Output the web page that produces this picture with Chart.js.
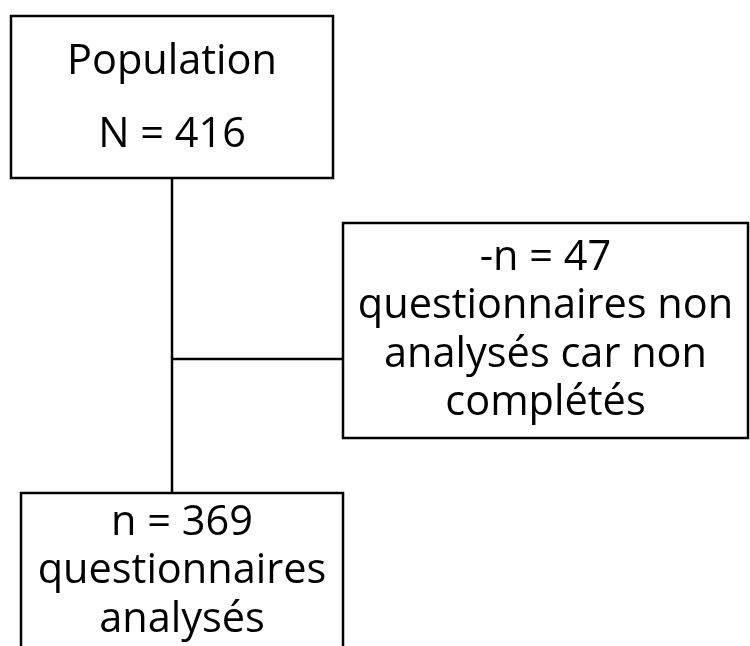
<!DOCTYPE html>
<html>
<head>
<meta charset="utf-8">
<script src="https://cdn.jsdelivr.net/npm/chart.js@4"></script>
<style>
  html, body { margin: 0; padding: 0; background: #fff; }
  #wrap { width: 750px; height: 646px; }
</style>
</head>
<body>
<div id="wrap"><canvas id="flow"></canvas></div>
<script>
// flow steps: count label, count, text lines
const countNames = ["N", "-n", "n"];
const stepCounts = [416, 47, 369];
const stepTexts = [
  ["Population"],
  ["questionnaires non", "analysés car non", "complétés"],
  ["questionnaires", "analysés"]
];

// box layout in chart units (x 0..750, y 0..646 top-down)
const boxLayout = [
  { x0: 11, x1: 333, y0: 16, y1: 178, baselines: [74, 147], countFirst: false },
  { x0: 343, x1: 748, y0: 223, y1: 438, baselines: [270, 318, 367, 415], countFirst: true },
  { x0: 21, x1: 343, y0: 493, y1: 660, baselines: [535, 583, 632], countFirst: true }
];
const trunkX = 172;
const branchY = 359;

const flowPlugin = {
  id: "flow",
  afterDraw(chart) {
    const ctx = chart.ctx;
    const xs = chart.scales.x, ys = chart.scales.y;
    const px = v => xs.getPixelForValue(v);
    const py = v => ys.getPixelForValue(v);

    ctx.save();
    ctx.strokeStyle = "#000";
    ctx.lineWidth = 2.5;

    // connectors
    ctx.beginPath();
    ctx.moveTo(px(trunkX), py(boxLayout[0].y1));
    ctx.lineTo(px(trunkX), py(boxLayout[2].y0));
    ctx.moveTo(px(trunkX), py(branchY));
    ctx.lineTo(px(boxLayout[1].x0), py(branchY));
    ctx.stroke();

    ctx.font = "41.5px 'Open Sans'";
    ctx.textAlign = "center";
    ctx.textBaseline = "alphabetic";

    boxLayout.forEach((b, i) => {
      ctx.fillStyle = "#fff";
      ctx.fillRect(px(b.x0), py(b.y0), px(b.x1) - px(b.x0), py(b.y1) - py(b.y0));
      ctx.strokeRect(px(b.x0), py(b.y0), px(b.x1) - px(b.x0), py(b.y1) - py(b.y0));

      const countLine = countNames[i] + " = " + stepCounts[i];
      const lines = b.countFirst ? [countLine, ...stepTexts[i]] : [...stepTexts[i], countLine];
      const cx = px((b.x0 + b.x1) / 2);
      ctx.fillStyle = "#000";
      lines.forEach((t, j) => ctx.fillText(t, cx, py(b.baselines[j])));
    });
    ctx.restore();
  }
};

new Chart(document.getElementById("flow"), {
  type: "scatter",
  data: { datasets: [{ data: [], pointRadius: 0 }] },
  options: {
    responsive: true,
    maintainAspectRatio: false,
    animation: false,
    layout: { padding: 0 },
    plugins: { legend: { display: false }, tooltip: { enabled: false } },
    scales: {
      x: { type: "linear", min: 0, max: 750, display: false },
      y: { type: "linear", min: 0, max: 646, reverse: true, display: false }
    }
  },
  plugins: [flowPlugin]
});
</script>
</body>
</html>
